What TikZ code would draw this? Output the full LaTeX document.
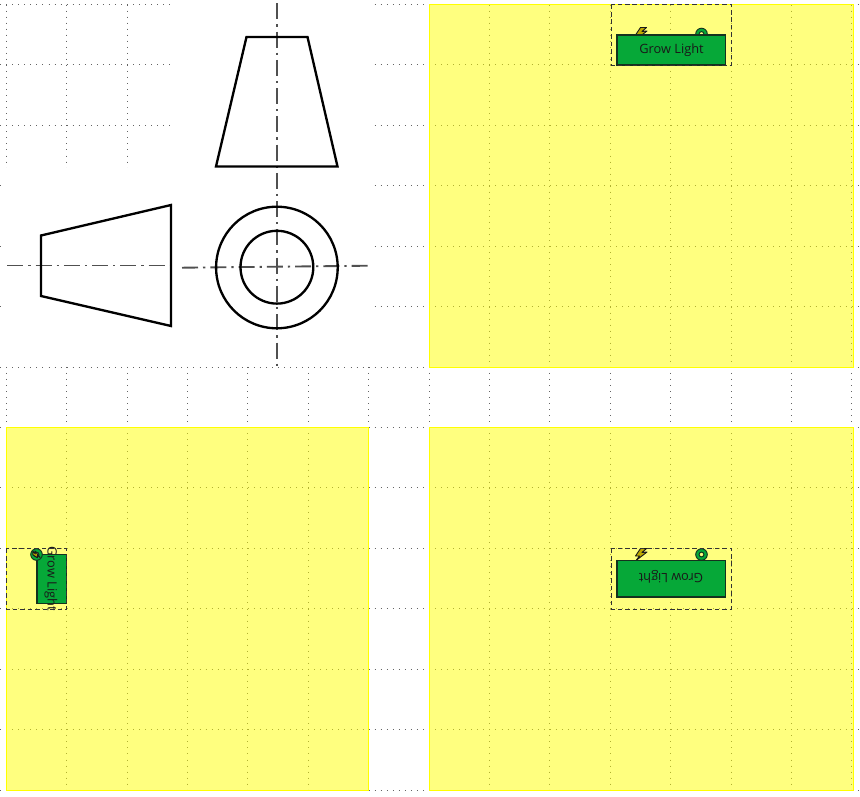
\documentclass[tikz,border=0pt]{standalone}
\usepackage{fontspec}
\setmainfont{Open Sans}
\definecolor{gridgray}{RGB}{100,100,100}
\definecolor{greenbox}{RGB}{6,168,56}
\definecolor{linegray}{RGB}{80,80,80}
\definecolor{ygold}{RGB}{190,170,0}
\definecolor{pureyellow}{RGB}{255,255,0}
\definecolor{paleyellow}{RGB}{255,255,128}
\definecolor{darkedge}{RGB}{20,50,30}
\tikzset{
  griddot/.style={gridgray,line width=0.75pt,dash pattern=on 0.75pt off 3.78pt},
  paper/.style={fill=pureyellow,fill opacity=0.5,draw=none},
  paperedge/.style={draw=pureyellow,line width=0.6pt},
  selbox/.style={draw=black!80,line width=0.75pt,dash pattern=on 3.4pt off 2.2pt},
  growbox/.style={draw=darkedge,fill=greenbox,line width=0.9pt},
  outline/.style={draw=black,line width=1.75pt,line join=miter},
  centreline/.style={draw=linegray,line width=1.4pt,dash pattern=on 12pt off 3.75pt on 1.7pt off 3.75pt},
  growtext/.style={font=\fontsize{9.6pt}{11pt}\selectfont,inner sep=0pt,text=black!90},
  ringicon/.style={draw=darkedge,fill=greenbox,line width=0.7pt,even odd rule},
  bolticon/.style={draw=black!90,fill=ygold,line width=0.7pt,line join=round},
}
\newcommand{\boltat}[4]{\begin{scope}[shift={(#1,#2)},rotate=#3,scale=#4]
  \draw[bolticon] (-0.5,-6) -- (5.5,-6) -- (1,-2) -- (6,-2.5) -- (-5,6) -- (-1.5,1.5) -- (-5.5,1.5) -- cycle;
\end{scope}}
\newcommand{\ringat}[2]{\fill[paleyellow] (#1,#2) circle (2.2);
  \draw[ringicon] (#1,#2) circle (5.8) (#1,#2) circle (2.4);}
\begin{document}
\begin{tikzpicture}[x=0.75pt,y=-0.75pt]
\useasboundingbox (0,0) rectangle (860,796);
\fill[white] (0,0) rectangle (860,796);
% dotted grid
\foreach \gx in {6.3,66.7,127.1,187.5,247.9,308.3,368.7,429.1,489.5,549.9,610.3,670.7,731.1,791.5,851.9}
  \draw[griddot] (\gx,4.5) -- (\gx,791);
\foreach \gy in {4.5,64.9,125.3,185.8,246.2,306.6,367,427.4,487.9,548.3,608.7,669.1,729.5,790}
  \draw[griddot] (0.2,\gy) -- (858,\gy);
% white mask of the drawing sheet
\fill[white] (170.5,0) rectangle (369.5,366);
\fill[white] (4.5,167.5) rectangle (369.5,366);
% yellow sheets
\fill[paper] (429.3,4.3) rectangle (852.9,367.3);
\fill[paper] (6.3,427.5) rectangle (368.8,790.4);
\fill[paper] (429.3,427.5) rectangle (852.9,790.4);
\draw[paperedge] (429.3,4.3) rectangle (852.9,367.3);
\draw[paperedge] (6.3,427.5) rectangle (368.8,790.4);
\draw[paperedge] (429.3,427.5) rectangle (852.9,790.4);
% orthographic views
\draw[centreline] (276.8,3.3) -- (276.8,366);
\draw[centreline] (7.3,265.5) -- (170.5,265.5);
\draw[centreline] (182,267.7) -- (370.5,265.7);
\draw[outline] (246.5,37) -- (307.5,37) -- (337.5,166.5) -- (216,166.5) -- cycle;
\draw[outline] (41,235.5) -- (171,205) -- (171,326) -- (41,296) -- cycle;
\draw[outline] (276.9,267.5) circle (60.8);
\draw[outline] (276.9,267.2) circle (36.4);
% top-right
\boltat{641}{33.5}{0}{1}
\ringat{701.5}{34}
\draw[growbox] (617,35) rectangle (725.5,65);
\node[growtext] (growtop) at (671.5,50.5) {Grow Light};
\draw[selbox] (611,4.5) rectangle (731.5,65);
% lower-right
\boltat{641}{554.5}{0}{1}
\ringat{701.5}{554.5}
\draw[growbox] (617,560.5) rectangle (725.5,597);
\node[growtext,rotate=180] (growdown) at (671,577) {Grow Light};
\draw[selbox] (611,548.5) rectangle (731.5,609);
% lower-left
\draw[growbox] (37,554.5) rectangle (66.5,603.5);
\ringat{36.5}{554.5}
\boltat{36.5}{554.5}{90}{0.6}
\node[growtext,rotate=-90] (growleft) at (51,578.5) {Grow Light};
\draw[selbox] (6,548.5) rectangle (66.5,609);
\end{tikzpicture}
\end{document}
